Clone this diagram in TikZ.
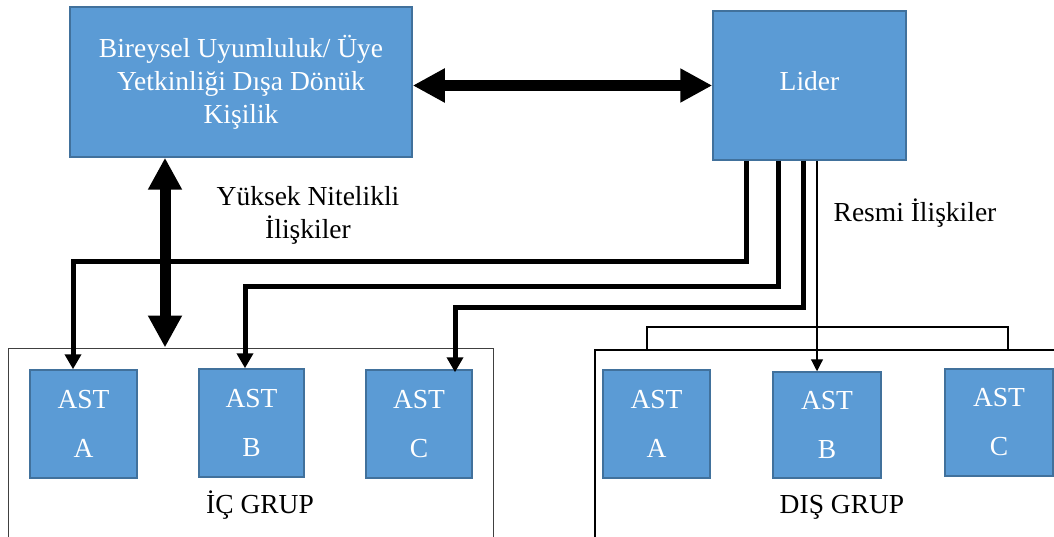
\documentclass[tikz,border=0pt]{standalone}
\usepackage{fontspec}
\setmainfont{Liberation Serif}
\usetikzlibrary{arrows.meta}
\definecolor{boxfill}{HTML}{5B9BD5}
\definecolor{boxline}{HTML}{41719C}
\definecolor{grpline}{HTML}{404040}
\tikzset{
  bluebox/.style={draw=boxline, line width=1.5pt, fill=boxfill, text=white,
    inner sep=0pt, align=center, font=\fontsize{27.5}{33}\selectfont},
  grpbox/.style={draw=grpline, line width=1pt, inner sep=0pt},
  label/.style={text=black, align=center, inner sep=0pt,
    font=\fontsize{27.5}{33}\selectfont},
  dbl/.style={line width=11pt, {Triangle[length=32pt,width=32pt]}-{Triangle[length=32pt,width=32pt]}},
  conn/.style={line width=5pt, -{Triangle[length=15pt,width=16pt]}},
  thin/.style={line width=1.2pt, black},
}
\begin{document}
\begin{tikzpicture}[x=1pt, y=-1pt]
\useasboundingbox (0,0) rectangle (1054,537);

% group frames
\node[grpbox, minimum width=485pt, minimum height=197pt] (ingrp) at (250.5,446.5) {};
\node[grpbox, draw=black, line width=2pt, minimum width=467pt, minimum height=195pt] (outgrp) at (828.5,447.5) {};

% top boxes
\node[bluebox, minimum width=342pt, minimum height=150pt] (big) at (241,82)
  {Bireysel Uyumluluk/ Üye\\Yetkinliği Dışa Dönük\\Kişilik};
\node[bluebox, minimum width=193pt, minimum height=149pt] (lider) at (809.5,85.5) {\raisebox{9pt}{Lider}};

% inner group members
\node[bluebox, minimum width=107pt, minimum height=108pt] (ia) at (83.5,424) {AST\\[16pt]A};
\node[bluebox, minimum width=105pt, minimum height=108pt] (ib) at (251.5,423) {AST\\[16pt]B};
\node[bluebox, minimum width=106pt, minimum height=108pt] (ic) at (419,424) {AST\\[16pt]C};

% outer group members
\node[bluebox, minimum width=107pt, minimum height=108pt] (oa) at (656.5,424) {AST\\[16pt]A};
\node[bluebox, minimum width=108pt, minimum height=106pt] (ob) at (827,425) {AST\\[16pt]B};
\node[bluebox, minimum width=108pt, minimum height=107pt] (oc) at (999,422.5) {AST\\[16pt]C};

% labels
\node[label] (lblY) at (308,215) {Yüksek Nitelikli\\İlişkiler};
\node[label] (lblR) at (915,213) {Resmi İlişkiler};
\node[label] (lblIn) at (260,505) {İÇ GRUP};
\node[label] (lblOut) at (842,507) {DIŞ GRUP};

% two-way links
\draw[dbl] (big.east |- lider.west) -- (lider.west);
\draw[dbl] ([xshift=-76pt]big.south) -- ([xshift=-76pt]big.south |- ingrp.north);

% leader to in-group members
\coordinate (tA) at (73,262);
\coordinate (tB) at (245,286);
\coordinate (tC) at (455,307);
\draw[conn] ([xshift=-63.5pt]lider.south) |- (tA) -- (tA |- ia.north);
\draw[conn] ([xshift=-31.5pt]lider.south) |- (tB) -- (tB |- ib.north);
\draw[conn] ([xshift=-6.5pt]lider.south) |- (tC) -- ([yshift=-3pt]tC |- ic.north);

% formal relation to the out-group
\draw[thin, -{Triangle[length=12pt,width=12pt]}] ([xshift=7.5pt]lider.south) -- ([xshift=-10pt]ob.north);
\coordinate (brL) at (647,327);
\coordinate (brR) at (1008,327);
\draw[thin] (brL |- outgrp.north) -- (brL) -- (brR) -- (brR |- outgrp.north);
\end{tikzpicture}
\end{document}
